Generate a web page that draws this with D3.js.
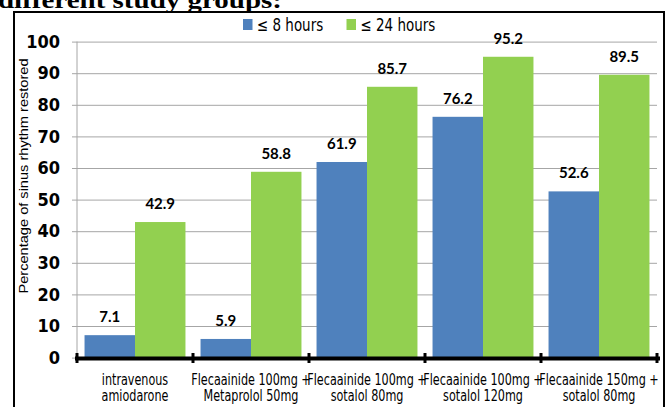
<!DOCTYPE HTML>
<html lang="en">
<head>
	<meta charset="utf-8">
	<script src="https://cdn.jsdelivr.net/npm/d3@7/dist/d3.min.js" charset="utf-8"></script>
	<style>
		body { margin: 0; background: #fff; }
		svg { display: block; }
		.narrow { font-family: "DejaVu Sans Condensed", "DejaVu Sans", sans-serif; font-stretch: condensed; }
	</style>
</head>
<body>
	<script>

		var categories = ["intravenous|amiodarone", "Flecaainide 100mg +|Metaprolol 50mg", "Flecaainide 100mg +|sotalol 80mg",
			"Flecaainide 100mg +|sotalol 120mg", "Flecaainide 150mg +|sotalol 80mg"];
		var seriesNames = ["\u2264 8 hours", "\u2264 24 hours"];
		var hours8 = [7.1, 5.9, 61.9, 76.2, 52.6];
		var hours24 = [42.9, 58.8, 85.7, 95.2, 89.5];
		var yTicks = [0, 10, 20, 30, 40, 50, 60, 70, 80, 90, 100];

		var w = 670;
		var h = 407;
		var colors = ["#4F81BD", "#92D050"];

		var svg = d3.select("body")
			.append("svg")
			.attr("width", w)
			.attr("height", h);

		// title of the page, cut off at the top
		svg.append("text")
			.attr("x", -2)
			.attr("y", 8)
			.attr("font-family", "Liberation Serif, DejaVu Serif, serif")
			.attr("font-weight", "bold")
			.attr("font-size", 23)
			.attr("textLength", 284)
			.attr("lengthAdjust", "spacingAndGlyphs")
			.text("different study groups:");

		// chart frame
		svg.append("rect")
			.attr("x", 14)
			.attr("y", 12)
			.attr("width", 650)
			.attr("height", 410)
			.attr("fill", "none")
			.attr("stroke", "#000")
			.attr("stroke-width", 2);

		var xScale = d3.scaleBand().domain(d3.range(categories.length)).range([77, 657]).paddingInner(0.13).paddingOuter(0.065);
		var xInner = d3.scaleBand().domain([0, 1]).range([0, xScale.bandwidth()]);
		var yScale = d3.scaleLinear().domain([0, 100]).range([357.6, 41.6]);

		// y axis with gridlines
		var yAxis = svg.append("g")
			.attr("transform", "translate(72,0)")
			.call(d3.axisLeft(yScale).tickValues(yTicks).tickSize(-585).tickPadding(12));
		yAxis.select(".domain").remove();
		yAxis.selectAll("line").attr("stroke", "#a6a6a6");
		yAxis.selectAll("text")
			.attr("class", "narrow")
			.attr("font-size", 18)
			.attr("font-weight", "bold")
			.attr("fill", "#000");

		svg.append("line")
			.attr("x1", 77).attr("x2", 77)
			.attr("y1", yScale(100)).attr("y2", yScale(0))
			.attr("stroke", "#a6a6a6");

		svg.append("text")
			.attr("transform", "translate(28,176) rotate(-90)")
			.attr("text-anchor", "middle")
			.attr("font-family", "Liberation Sans, sans-serif")
			.attr("font-size", 13)
			.attr("textLength", 235)
			.attr("lengthAdjust", "spacingAndGlyphs")
			.text("Percentage of sinus rhythm restored");

		// bars
		var groups = svg.selectAll(".cat")
			.data(categories.map(function(c, i) { return [hours8[i], hours24[i]]; }))
			.enter()
			.append("g")
			.attr("class", "cat")
			.attr("transform", function(d, i) { return "translate(" + xScale(i) + ",0)"; });

		groups.selectAll("rect")
			.data(function(d) { return d; })
			.enter()
			.append("rect")
			.attr("x", function(d, j) { return xInner(j); })
			.attr("y", function(d) { return yScale(d); })
			.attr("width", xInner.bandwidth())
			.attr("height", function(d) { return yScale(0) - yScale(d); })
			.attr("fill", function(d, j) { return colors[j]; });

		groups.selectAll("text")
			.data(function(d) { return d; })
			.enter()
			.append("text")
			.attr("x", function(d, j) { return xInner(j) + xInner.bandwidth() / 2; })
			.attr("y", function(d) { return yScale(d) - 13; })
			.attr("text-anchor", "middle")
			.attr("font-family", "Lato, sans-serif")
			.attr("font-weight", "bold")
			.attr("font-size", 15)
			.text(function(d) { return d.toFixed(1); });

		// thick x axis with tick marks on category boundaries
		var step = xScale.step();
		var bounds = d3.range(categories.length + 1).map(function(i) { return 77 + i * step; });
		svg.append("line")
			.attr("x1", 75).attr("x2", 660)
			.attr("y1", 358.5).attr("y2", 358.5)
			.attr("stroke", "#000")
			.attr("stroke-width", 4);
		svg.selectAll(".btick")
			.data(bounds)
			.enter()
			.append("line")
			.attr("class", "btick")
			.attr("x1", function(d) { return d; }).attr("x2", function(d) { return d; })
			.attr("y1", 353).attr("y2", 363)
			.attr("stroke", "#000")
			.attr("stroke-width", 3);

		// category labels, squeezed sideways like the original
		var xAxis = svg.append("g")
			.attr("transform", "translate(0,358)")
			.call(d3.axisBottom(xScale).tickSize(0).tickFormat(""));
		xAxis.select(".domain").remove();
		xAxis.selectAll(".tick").append("text")
			.attr("class", "narrow")
			.attr("text-anchor", "middle")
			.attr("font-size", 15)
			.attr("transform", "scale(0.83,1)")
			.attr("fill", "#000")
			.selectAll("tspan")
			.data(function(d) { return categories[d].split("|"); })
			.enter()
			.append("tspan")
			.attr("x", 0)
			.attr("y", function(d, i) { return 27 + i * 16.5; })
			.text(function(d) { return d; });

		// legend
		var legend = svg.selectAll(".legend")
			.data(seriesNames)
			.enter()
			.append("g")
			.attr("class", "legend")
			.attr("transform", function(d, i) { return "translate(" + [243, 346.5][i] + ",0)"; });
		legend.append("rect")
			.attr("x", 0).attr("y", 19)
			.attr("width", 9.5).attr("height", 11)
			.attr("fill", function(d, i) { return colors[i]; });
		legend.append("text")
			.attr("class", "narrow")
			.attr("transform", "translate(14,30.5) scale(0.88,1)")
			.attr("font-size", 17)
			.text(function(d) { return d; });

	</script>
</body>
</html>
